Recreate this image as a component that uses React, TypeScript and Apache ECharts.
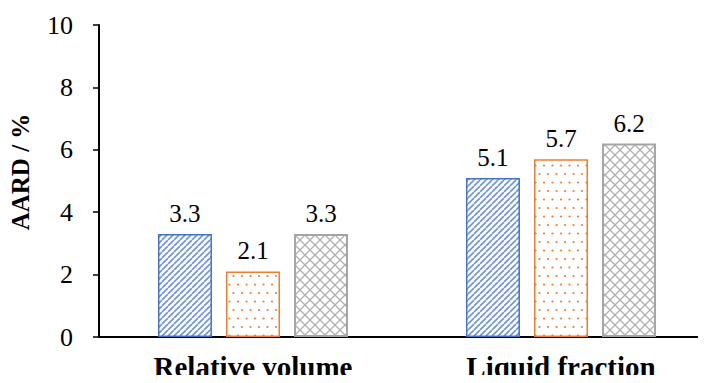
import React, { useEffect, useRef } from "react";
import * as echarts from "echarts";

const categories = ["Relative volume", "Liquid fraction"];
const seriesA = [3.3, 5.1];
const seriesB = [2.1, 5.7];
const seriesC = [3.3, 6.2];
const yTicks = [0, 2, 4, 6, 8, 10];

const FONT = "'Liberation Serif', 'Times New Roman', serif";

function stripePattern(color: string): HTMLCanvasElement {
  const c = document.createElement("canvas");
  const s = 6;
  c.width = s;
  c.height = s;
  const g = c.getContext("2d")!;
  g.fillStyle = "#ffffff";
  g.fillRect(0, 0, s, s);
  g.strokeStyle = color;
  g.lineWidth = 1.6;
  g.beginPath();
  for (let k = -1; k <= 1; k++) {
    g.moveTo(k * s, s);
    g.lineTo(k * s + s, 0);
  }
  g.stroke();
  return c;
}

function dotPattern(color: string): HTMLCanvasElement {
  const c = document.createElement("canvas");
  const w = 17;
  const h = 17;
  c.width = w;
  c.height = h;
  const g = c.getContext("2d")!;
  g.fillStyle = "#ffffff";
  g.fillRect(0, 0, w, h);
  g.fillStyle = color;
  const pts = [
    [4, 4],
    [12.5, 4],
    [0, 12.5],
    [8.5, 12.5],
    [17, 12.5],
  ];
  for (const [x, y] of pts) {
    g.beginPath();
    g.arc(x, y, 1.1, 0, Math.PI * 2);
    g.fill();
  }
  return c;
}

function crossPattern(color: string): HTMLCanvasElement {
  const c = document.createElement("canvas");
  const s = 10;
  c.width = s;
  c.height = s;
  const g = c.getContext("2d")!;
  g.fillStyle = "#ffffff";
  g.fillRect(0, 0, s, s);
  g.strokeStyle = color;
  g.lineWidth = 1.3;
  g.beginPath();
  g.moveTo(0, 0);
  g.lineTo(s, s);
  g.moveTo(s, 0);
  g.lineTo(0, s);
  g.stroke();
  return c;
}

export default function App() {
  const ref = useRef<HTMLDivElement>(null);

  useEffect(() => {
    if (!ref.current) return;
    const chart = echarts.init(ref.current, undefined, { renderer: "svg" });

    const label = {
      show: true,
      position: "top" as const,
      distance: 8,
      fontFamily: FONT,
      fontSize: 25,
      color: "#000",
      formatter: (p: any) => Number(p.value).toFixed(1),
    };

    const makeSeries = (name: string, data: number[], border: string, pattern: HTMLCanvasElement, bw: number) => ({
      name,
      type: "bar" as const,
      data,
      barWidth: 54,
      barGap: "26%",
      label,
      itemStyle: {
        color: { image: pattern, repeat: "repeat" },
        borderColor: border,
        borderWidth: bw,
      },
    });

    chart.setOption({
      animation: false,
      grid: { left: 99, right: 0, top: 25, bottom: 46, outerBoundsMode: "none", containLabel: false },
      xAxis: {
        type: "category",
        data: categories,
        axisLine: { lineStyle: { color: "#000", width: 2 } },
        axisTick: { show: false },
        axisLabel: {
          fontFamily: FONT,
          fontSize: 29,
          fontWeight: "bold",
          color: "#000",
          margin: 15,
        },
      },
      yAxis: {
        type: "value",
        min: yTicks[0],
        max: yTicks[yTicks.length - 1],
        interval: 2,
        name: "AARD / %",
        nameLocation: "middle",
        nameGap: 66,
        nameTextStyle: {
          fontFamily: FONT,
          fontSize: 25,
          fontWeight: "bold",
          color: "#000",
          padding: [0, 0, 0, 18],
        },
        axisLine: { show: true, lineStyle: { color: "#000", width: 2 } },
        axisTick: { show: true, length: 6, lineStyle: { color: "#000", width: 1.5 } },
        splitLine: { show: false },
        axisLabel: {
          fontFamily: FONT,
          fontSize: 26,
          color: "#000",
          margin: 26,
        },
      },
      series: [
        makeSeries("A", seriesA, "#4472C4", stripePattern("#6f93d6"), 1.5),
        makeSeries("B", seriesB, "#ED7D31", dotPattern("#ED7D31"), 1.5),
        makeSeries("C", seriesC, "#A5A5A5", crossPattern("#b0b0b0"), 2),
      ],
    });

    return () => chart.dispose();
  }, []);

  return (
    <div style={{ width: 706, height: 383, margin: -8, overflow: "hidden", position: "relative" }}>
      <div ref={ref} style={{ width: 715, height: 383 }} />
    </div>
  );
}
